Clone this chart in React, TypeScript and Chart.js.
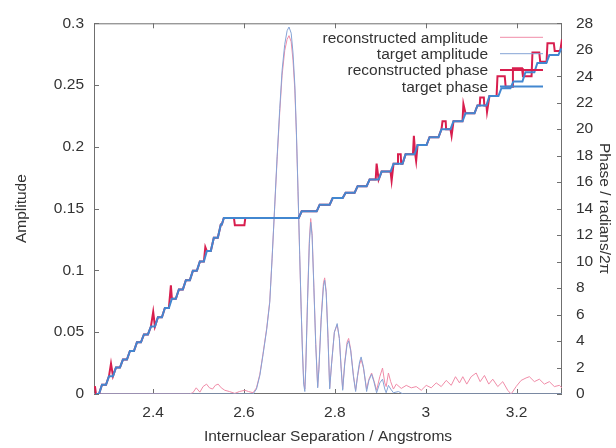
import React, { useEffect, useRef } from "react";
import { Chart, registerables } from "chart.js";

Chart.register(...registerables);

// ---------- data ----------
const xTickStep = 0.2;

const targetAmpX = [
  2.27, 2.62, 2.6276, 2.635, 2.6421, 2.65, 2.6568, 2.662, 2.6678, 2.673, 2.6788, 2.684, 2.6898, 2.695, 2.6992,
  2.704, 2.708, 2.712, 2.7155, 2.719, 2.7227, 2.726, 2.7287, 2.7315, 2.734, 2.736, 2.74, 2.744, 2.7469, 2.75,
  2.754, 2.758, 2.7623, 2.765, 2.77, 2.775, 2.7777, 2.781, 2.785, 2.7887, 2.793, 2.799, 2.8052, 2.81, 2.814,
  2.8173, 2.822, 2.827, 2.8304, 2.835, 2.841, 2.8458, 2.85, 2.8545, 2.8579, 2.863, 2.87, 2.875, 2.881, 2.886,
  2.892, 2.899, 2.905, 2.91, 2.913, 2.918, 2.923, 2.929, 2.94, 2.95, 3.3,
];
const targetAmp = [
  0, 0, 0.004, 0.015, 0.032, 0.052, 0.074, 0.11, 0.153, 0.192, 0.231, 0.262, 0.283, 0.294, 0.297,
  0.292, 0.276, 0.25, 0.212, 0.165, 0.113, 0.068, 0.035, 0.008, 0.002, 0.02, 0.075, 0.122, 0.139, 0.128,
  0.085, 0.04, 0.005, 0.02, 0.06, 0.087, 0.092, 0.082, 0.045, 0.004, 0.025, 0.05, 0.057, 0.045, 0.02,
  0.003, 0.025, 0.04, 0.043, 0.035, 0.014, 0.002, 0.015, 0.026, 0.03, 0.022, 0.002, 0.011, 0.016, 0.01,
  0.001, 0.009, 0.012, 0.004, 0.001, 0.007, 0.004, 0.001, 0.002, 0, 0,
];

const reconAmpX = [
  2.27, 2.48, 2.4876, 2.495, 2.503, 2.51, 2.5177, 2.524, 2.5309, 2.537, 2.5432, 2.55, 2.5579, 2.568, 2.5799,
  2.59, 2.6019, 2.61, 2.6201, 2.6276, 2.635, 2.6421, 2.65, 2.6568, 2.662, 2.6678, 2.673, 2.6788, 2.684, 2.6898,
  2.695, 2.6992, 2.704, 2.708, 2.712, 2.7155, 2.719, 2.7227, 2.726, 2.7287, 2.7315, 2.734, 2.736, 2.74, 2.744,
  2.7469, 2.75, 2.754, 2.758, 2.7623, 2.765, 2.77, 2.775, 2.7777, 2.781, 2.785, 2.7887, 2.793, 2.799, 2.8052,
  2.81, 2.814, 2.8173, 2.822, 2.827, 2.8304, 2.835, 2.841, 2.8458, 2.85, 2.8545, 2.8579, 2.863, 2.87, 2.875,
  2.881, 2.886, 2.892, 2.899, 2.905, 2.91, 2.913, 2.918, 2.923, 2.929, 2.9353, 2.9463, 2.9573, 2.9683, 2.9792,
  2.9902, 3.0012, 3.0122, 3.0232, 3.0342, 3.0452, 3.0562, 3.0656, 3.0744, 3.0817, 3.0904, 3.1001, 3.1111, 3.1199,
  3.1293, 3.1388, 3.1476, 3.1586, 3.1696, 3.1806, 3.188, 3.199, 3.21, 3.221, 3.2282, 3.2392, 3.2502, 3.2612,
  3.2722, 3.2832, 3.2942, 3.3,
];
const reconAmp = [
  0, 0, 0.001, 0.005, 0.0015, 0.006, 0.008, 0.005, 0.004, 0.007, 0.008, 0.005, 0.003, 0.002, 0.0005,
  0.002, 0.003, 0.002, 0.001, 0.005, 0.016, 0.033, 0.053, 0.075, 0.11, 0.152, 0.19, 0.228, 0.258, 0.278,
  0.287, 0.29, 0.285, 0.27, 0.246, 0.21, 0.164, 0.112, 0.068, 0.036, 0.01, 0.004, 0.021, 0.077, 0.125,
  0.142, 0.13, 0.086, 0.041, 0.006, 0.021, 0.062, 0.09, 0.094, 0.083, 0.046, 0.005, 0.025, 0.05, 0.056,
  0.045, 0.021, 0.004, 0.026, 0.042, 0.045, 0.036, 0.015, 0.003, 0.014, 0.024, 0.028, 0.021, 0.004, 0.012,
  0.017, 0.011, 0.003, 0.014, 0.021, 0.009, 0.006, 0.017, 0.01, 0.004, 0.008, 0.0045, 0.007, 0.005, 0.006,
  0.003, 0.007, 0.005, 0.009, 0.006, 0.011, 0.007, 0.014, 0.009, 0.014, 0.008, 0.014, 0.017, 0.01,
  0.015, 0.008, 0.012, 0.006, 0.01, 0.003, 0.0, 0.006, 0.011, 0.013, 0.014, 0.01, 0.012, 0.008,
  0.01, 0.006, 0.007, 0.005,
];

const targetPhaseX = [
  2.2744, 2.281, 2.2876, 2.2964, 2.303, 2.3118, 2.3184, 2.3271, 2.3337, 2.3425, 2.3491, 2.3579, 2.3645, 2.3733,
  2.3799, 2.3887, 2.3953, 2.4041, 2.4107, 2.4195, 2.426, 2.4348, 2.4414, 2.4502, 2.4568, 2.4656, 2.4722, 2.481,
  2.4876, 2.4964, 2.503, 2.5118, 2.5184, 2.5271, 2.5337, 2.5425, 2.5491, 2.5513, 2.5557, 2.7205, 2.7271, 2.7601,
  2.7667, 2.7887, 2.7953, 2.8173, 2.8238, 2.8436, 2.8502, 2.87, 2.8766, 2.8964, 2.903, 2.9227, 2.9293, 2.9491,
  2.9557, 2.9755, 2.9821, 3.0019, 3.0085, 3.0282, 3.0348, 3.0546, 3.0612, 3.081, 3.0876, 3.1074, 3.114, 3.1337,
  3.1403, 3.1601, 3.1667, 3.1865, 3.1931, 3.2129, 3.2195, 3.2392, 3.2458, 3.2656, 3.2722, 3.292, 3.2985,
];
const targetPhase = [
  0, 0, 0.7, 0.7, 1.35, 1.35, 2.0, 2.0, 2.6, 2.6, 3.25, 3.25, 3.9, 3.9,
  4.5, 4.5, 5.1, 5.1, 5.8, 5.8, 6.5, 6.5, 7.2, 7.2, 7.9, 7.9, 8.6, 8.6,
  9.3, 9.3, 10.0, 10.0, 10.8, 10.8, 11.8, 11.8, 12.8, 12.8, 13.3, 13.3, 13.8, 13.8,
  14.3, 14.3, 14.8, 14.8, 15.2, 15.2, 15.7, 15.7, 16.2, 16.2, 16.8, 16.8, 17.4, 17.4,
  18.1, 18.1, 18.8, 18.8, 19.4, 19.4, 20.0, 20.0, 20.6, 20.6, 21.2, 21.2, 21.8, 21.8,
  22.5, 22.5, 23.1, 23.1, 23.6, 23.6, 24.3, 24.3, 25.0, 25.0, 25.6, 25.6, 26.1,
];

const reconPhaseX = [
  2.272, 2.2744, 2.281, 2.2876, 2.2964, 2.303, 2.3074, 2.3118, 2.3184, 2.3271, 2.3337, 2.3425, 2.3491, 2.3579,
  2.3645, 2.3733, 2.3799, 2.3887, 2.3953, 2.4003, 2.4041, 2.4107, 2.4195, 2.426, 2.4348, 2.4392, 2.4414, 2.4502,
  2.4568, 2.4656, 2.4722, 2.481, 2.4876, 2.4964, 2.503, 2.5118, 2.515, 2.5184, 2.5271, 2.5337, 2.5425, 2.5491,
  2.5513, 2.5557, 2.578, 2.58, 2.601, 2.603, 2.7205, 2.7271, 2.7601, 2.7667, 2.7887, 2.7953, 2.8173, 2.8238,
  2.8436, 2.8502, 2.87, 2.8766, 2.89, 2.892, 2.8964, 2.903, 2.9227, 2.925, 2.9293, 2.938, 2.939, 2.945,
  2.946, 2.9491, 2.9557, 2.972, 2.974, 2.977, 2.979, 2.9821, 3.0019, 3.0085, 3.0282, 3.0348, 3.037, 3.044,
  3.045, 3.0546, 3.057, 3.0612, 3.081, 3.083, 3.0876, 3.1074, 3.114, 3.119, 3.12, 3.128, 3.129, 3.1337,
  3.135, 3.1403, 3.156, 3.158, 3.174, 3.176, 3.19, 3.192, 3.212, 3.214, 3.233, 3.235, 3.25, 3.252,
  3.266, 3.268, 3.282, 3.284, 3.296, 3.3,
];
const reconPhase = [
  0.6, 0, 0, 0.7, 0.7, 1.35, 2.3, 1.35, 2.0, 2.0, 2.6, 2.6, 3.25, 3.25,
  3.9, 3.9, 4.5, 4.5, 5.1, 6.2, 5.1, 5.8, 5.8, 6.5, 6.5, 8.2, 7.2, 7.2,
  7.9, 7.9, 8.6, 8.6, 9.3, 9.3, 10.0, 10.0, 11.1, 10.8, 10.8, 11.8, 11.8, 12.8,
  12.8, 13.3, 13.3, 12.75, 12.75, 13.3, 13.3, 13.8, 13.8, 14.3, 14.3, 14.8, 14.8, 15.2,
  15.2, 15.7, 15.7, 16.2, 16.2, 17.4, 16.2, 16.8, 16.8, 16.1, 17.4, 17.4, 18.1, 18.1,
  17.4, 17.4, 18.1, 18.1, 19.5, 18.1, 17.6, 18.8, 18.8, 19.4, 19.4, 20.0, 20.6, 20.6,
  20.0, 20.0, 19.5, 20.6, 20.6, 21.9, 21.2, 21.2, 21.8, 21.8, 22.4, 22.4, 21.8, 21.8,
  21.3, 22.5, 22.5, 24.0, 24.0, 23.2, 23.2, 24.6, 24.6, 24.0, 24.0, 25.8, 25.8, 25.1,
  25.1, 26.5, 26.5, 25.9, 25.9, 26.8,
];

const seriesLabels = ["reconstructed amplitude", "target amplitude", "reconstructed phase", "target phase"];

const FONT = '"Liberation Sans", Arial, Helvetica, sans-serif';
const TEXT = "#333333";
const FRAME = "#6f6f6f";

const toPoints = (xs: number[], ys: number[]) => xs.map((x, i) => ({ x, y: ys[i] }));

const framePlugin = {
  id: "gnuplotFrame",
  beforeDatasetsDraw(chart: any) {
    const { ctx, chartArea: a, scales } = chart;
    ctx.save();
    ctx.strokeStyle = FRAME;
    ctx.lineWidth = 1;
    ctx.strokeRect(a.left + 0.5, a.top + 0.5, a.right - a.left - 1, a.bottom - a.top - 1);
    const tl = 5;
    ctx.beginPath();
    scales.x.ticks.forEach((t: any) => {
      const px = Math.round(scales.x.getPixelForValue(t.value)) + 0.5;
      ctx.moveTo(px, a.bottom);
      ctx.lineTo(px, a.bottom - tl);
      ctx.moveTo(px, a.top);
      ctx.lineTo(px, a.top + tl);
    });
    scales.y.ticks.forEach((t: any) => {
      const py = Math.round(scales.y.getPixelForValue(t.value)) + 0.5;
      ctx.moveTo(a.left, py);
      ctx.lineTo(a.left + tl, py);
    });
    scales.y1.ticks.forEach((t: any) => {
      const py = Math.round(scales.y1.getPixelForValue(t.value)) + 0.5;
      ctx.moveTo(a.right, py);
      ctx.lineTo(a.right - tl, py);
    });
    ctx.stroke();
    ctx.restore();
  },
  afterDatasetsDraw(chart: any) {
    const { ctx, chartArea: a } = chart;
    ctx.save();
    ctx.font = `15.5px ${FONT}`;
    ctx.textAlign = "right";
    ctx.textBaseline = "middle";
    chart.data.datasets.forEach((d: any, i: number) => {
      const y = a.top + 14 + i * 16.4;
      ctx.fillStyle = TEXT;
      ctx.fillText(d.label, a.right - 74, y + 1);
      ctx.strokeStyle = d.borderColor;
      ctx.lineWidth = d.borderWidth;
      ctx.beginPath();
      ctx.moveTo(a.right - 62, y);
      ctx.lineTo(a.right - 19, y);
      ctx.stroke();
    });
    ctx.restore();
  },
};

export default function App() {
  const ref = useRef<HTMLCanvasElement | null>(null);

  useEffect(() => {
    if (!ref.current) return;
    Chart.defaults.font.family = FONT;
    Chart.defaults.color = TEXT;
    const chart = new Chart(ref.current, {
      type: "line",
      data: {
        datasets: [
          {
            label: seriesLabels[0],
            data: toPoints(reconAmpX, reconAmp),
            borderColor: "#f08ca8",
            borderWidth: 1,
            pointRadius: 0,
            yAxisID: "y",
            order: 4,
          },
          {
            label: seriesLabels[1],
            data: toPoints(targetAmpX, targetAmp),
            borderColor: "#86a4d6",
            borderWidth: 1,
            pointRadius: 0,
            yAxisID: "y",
            order: 3,
          },
          {
            label: seriesLabels[2],
            data: toPoints(reconPhaseX, reconPhase),
            borderColor: "#d81e4e",
            borderWidth: 2,
            pointRadius: 0,
            yAxisID: "y1",
            order: 2,
          },
          {
            label: seriesLabels[3],
            data: toPoints(targetPhaseX, targetPhase),
            borderColor: "#4287d0",
            borderWidth: 2,
            pointRadius: 0,
            yAxisID: "y1",
            order: 1,
          },
        ],
      },
      options: {
        animation: false,
        responsive: false,
        devicePixelRatio: 1,
        layout: { padding: { top: 13, left: 0, right: 0, bottom: 0 } },
        plugins: { legend: { display: false }, tooltip: { enabled: false } },
        scales: {
          x: {
            type: "linear",
            min: 2.27,
            max: 3.3,
            grid: { display: false, drawTicks: false },
            border: { display: false },
            ticks: {
              stepSize: xTickStep,
              includeBounds: false,
              padding: 9,
              maxRotation: 0,
              font: { size: 15.5 },
              color: TEXT,
              callback: (v: any) => String(Math.round(Number(v) * 10) / 10),
            },
            title: {
              display: true,
              text: "Internuclear Separation / Angstroms",
              font: { size: 15.5 },
              color: TEXT,
              padding: { top: 0, bottom: 2 },
            },
            afterFit: (s: any) => {
              s.height = 54;
            },
          },
          y: {
            type: "linear",
            position: "left",
            min: 0,
            max: 0.3,
            grid: { display: false, drawTicks: false },
            border: { display: false },
            ticks: {
              stepSize: 0.05,
              padding: 10,
              font: { size: 15.5 },
              color: TEXT,
              callback: (v: any) => String(Math.round(Number(v) * 100) / 100),
            },
            title: {
              display: true,
              text: "Amplitude",
              font: { size: 15.5 },
              color: TEXT,
              padding: { top: 12, bottom: 0 },
            },
            afterFit: (s: any) => {
              s.width = 94;
            },
          },
          y1: {
            type: "linear",
            position: "right",
            min: 0,
            max: 28,
            grid: { display: false, drawTicks: false },
            border: { display: false },
            ticks: {
              stepSize: 2,
              padding: 14,
              font: { size: 15.5 },
              color: TEXT,
            },
            title: {
              display: true,
              text: "Phase / radians/2π",
              font: { size: 15.5 },
              color: TEXT,
              padding: { top: 2, bottom: 0 },
            },
            afterFit: (s: any) => {
              s.width = 54;
            },
          },
        },
      },
      plugins: [framePlugin],
    });
    return () => chart.destroy();
  }, []);

  return (
    <div style={{ position: "fixed", left: 0, top: 0, width: 616, height: 448, background: "#ffffff" }}>
      <canvas ref={ref} width={616} height={448} style={{ display: "block", width: 616, height: 448 }} />
    </div>
  );
}
